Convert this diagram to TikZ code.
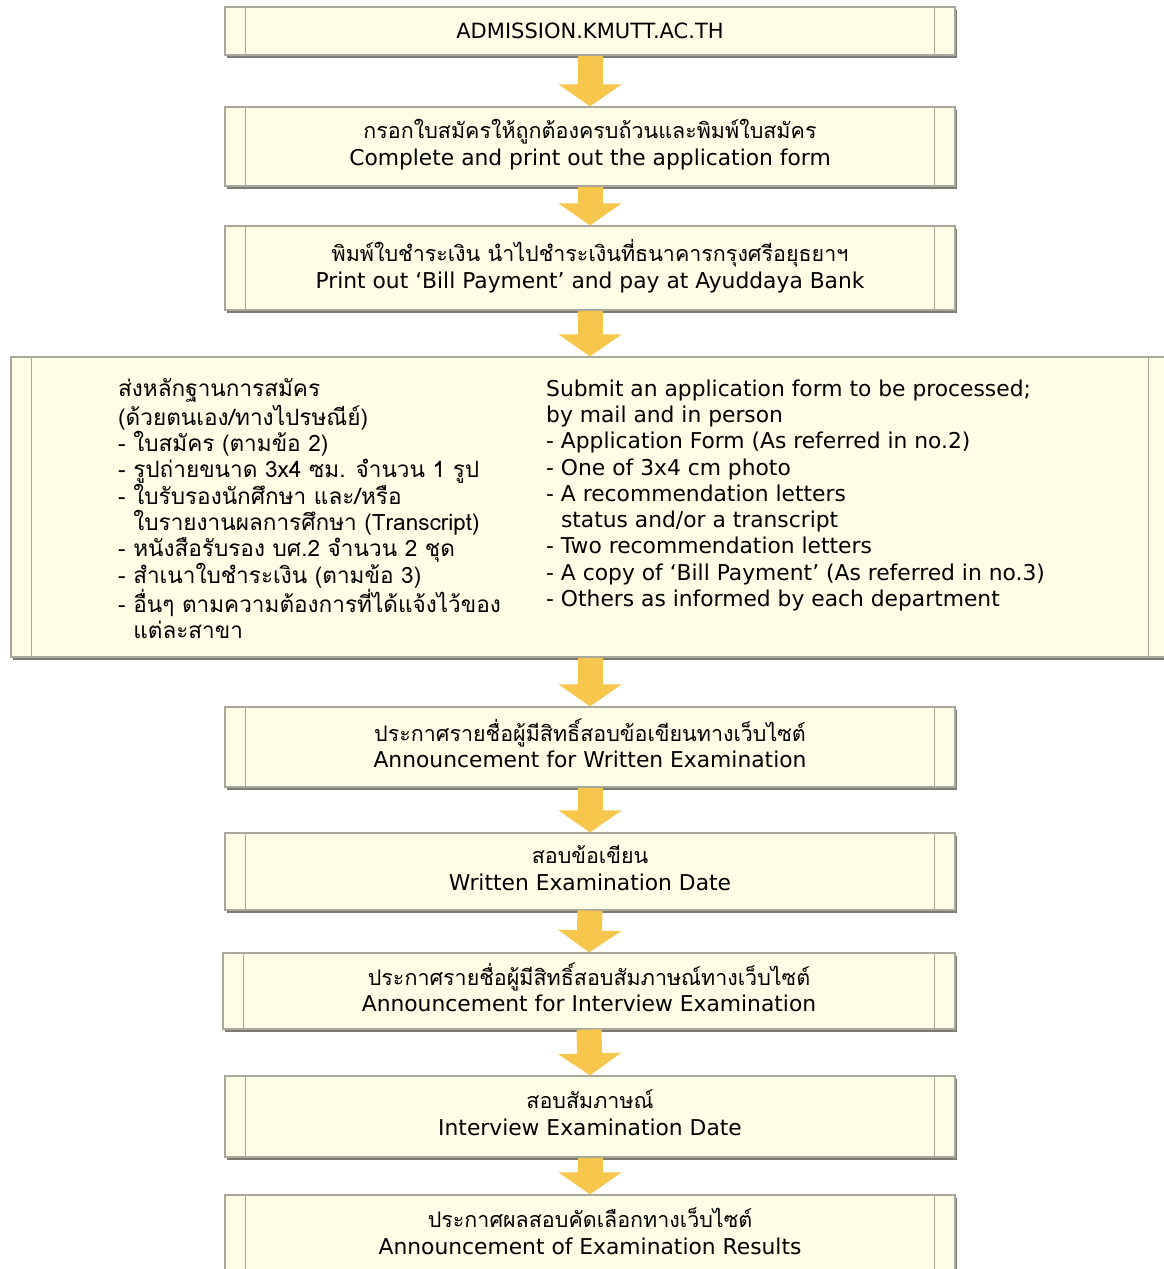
\documentclass[tikz,border=0pt]{standalone}
\usepackage{fontspec}
\setmainfont{DejaVu Sans}
\newfontfamily\thaif[Script=Thai,Scale=0.985]{Loma}
\newfontfamily\thaiwide[Script=Thai,Scale=1.035]{Loma}
\usetikzlibrary{arrows.meta,shadows}
\definecolor{boxfill}{HTML}{FEFDE6}
\definecolor{boxline}{HTML}{A8A89C}
\definecolor{shadowc}{HTML}{7C7C74}
\definecolor{arrowc}{HTML}{F7C64C}
\tikzset{
  procbox/.style={draw=boxline, line width=1.2pt, fill=boxfill,
    drop shadow={shadow xshift=2pt, shadow yshift=-2.5pt, fill=shadowc, opacity=1},
    inner sep=0pt, align=center, font=\fontsize{21.8}{26.5}\selectfont},
  coltext/.style={inner sep=0pt, align=left, anchor=north west, font=\fontsize{21.8}{26.3}\selectfont},
  flow/.style={color=arrowc, line width=25pt, -{Triangle[width=62pt,length=22pt]}},
  innerline/.style={boxline, line width=1.2pt}
}
\begin{document}
\begin{tikzpicture}[x=1pt,y=-1pt]
\useasboundingbox (0,0) rectangle (1163,1269);
\fill[white] (0,0) rectangle (1163,1269);

\node[procbox, minimum width=730pt, minimum height=48pt, font=\fontsize{21}{26.5}\selectfont] (b1) at (590,31) {ADMISSION.KMUTT.AC.TH};
\node[procbox, minimum width=730pt, minimum height=79pt] (b2) at (590,146.5)
  {\strut{\thaif กรอกใบสมัครให้ถูกต้องครบถ้วนและพิมพ์ใบสมัคร}\\Complete and print out the application form\strut};
\node[procbox, minimum width=730pt, minimum height=84pt] (b3) at (590,268)
  {\strut{\thaif พิมพ์ใบชำระเงิน นำไปชำระเงินที่ธนาคารกรุงศรีอยุธยาฯ}\\Print out ‘Bill Payment’ and pay at Ayuddaya Bank\strut};
\node[procbox, minimum width=1158pt, minimum height=300pt] (b4) at (590,507) {};
\node[procbox, minimum width=730pt, minimum height=80pt] (b5) at (590,747)
  {\strut{\thaif ประกาศรายชื่อผู้มีสิทธิ์สอบข้อเขียนทางเว็บไซต์}\\Announcement for Written Examination\strut};
\node[procbox, minimum width=730pt, minimum height=77pt] (b6) at (590,871.5)
  {\strut{\thaif สอบข้อเขียน}\\Written Examination Date\strut};
\node[procbox, minimum width=732pt, minimum height=76pt] (b7) at (589,991)
  {\strut{\thaif ประกาศรายชื่อผู้มีสิทธิ์สอบสัมภาษณ์ทางเว็บไซต์}\\Announcement for Interview Examination\strut};
\node[procbox, minimum width=730pt, minimum height=81pt] (b8) at (590,1116.5)
  {\strut{\thaif สอบสัมภาษณ์}\\Interview Examination Date\strut};
\node[procbox, minimum width=730pt, minimum height=80pt] (b9) at (590,1235)
  {\strut{\thaif ประกาศผลสอบคัดเลือกทางเว็บไซต์}\\Announcement of Examination Results\strut};

\foreach \n in {b1,b2,b3,b4,b5,b6,b7,b8,b9}{
  \draw[innerline] ([xshift=21pt]\n.north west) -- ([xshift=21pt]\n.south west)
                   ([xshift=-21pt]\n.north east) -- ([xshift=-21pt]\n.south east);
}

\node[coltext, font=\fontsize{21.8}{26.3}\thaiwide] (lcol) at (118,377.5) {\strut ส่งหลักฐานการสมัคร\\
(ด้วยตนเอง/ทางไปรษณีย์)\\
- ใบสมัคร (ตามข้อ 2)\\
- รูปถ่ายขนาด 3x4 ซม. จำนวน 1 รูป\\
- ใบรับรองนักศึกษา และ/หรือ\\
\phantom{- }ใบรายงานผลการศึกษา (Transcript)\\
- หนังสือรับรอง บศ.2 จำนวน 2 ชุด\\
- สำเนาใบชำระเงิน (ตามข้อ 3)\\
- อื่นๆ ตามความต้องการที่ได้แจ้งไว้ของ\\
\phantom{- }แต่ละสาขา};
\node[coltext] (rcol) at (546,377.5) {\strut Submit an application form to be processed;\\
by mail and in person\\
- Application Form (As referred in no.2)\\
- One of 3x4 cm photo\\
- A recommendation letters\\
\phantom{- }status and/or a transcript\\
- Two recommendation letters\\
- A copy of ‘Bill Payment’ (As referred in no.3)\\
- Others as informed by each department};

\draw[flow] (b1.south) -- (b2.north);
\draw[flow] (b2.south) -- (b3.north);
\draw[flow] (b3.south) -- (b4.north);
\draw[flow] (b4.south) -- (b5.north);
\draw[flow] (b5.south) -- (b6.north);
\draw[flow] (b6.south) -- (b7.north);
\draw[flow] (b7.south) -- (b8.north);
\draw[flow] (b8.south) -- (b9.north);
\end{tikzpicture}
\end{document}
